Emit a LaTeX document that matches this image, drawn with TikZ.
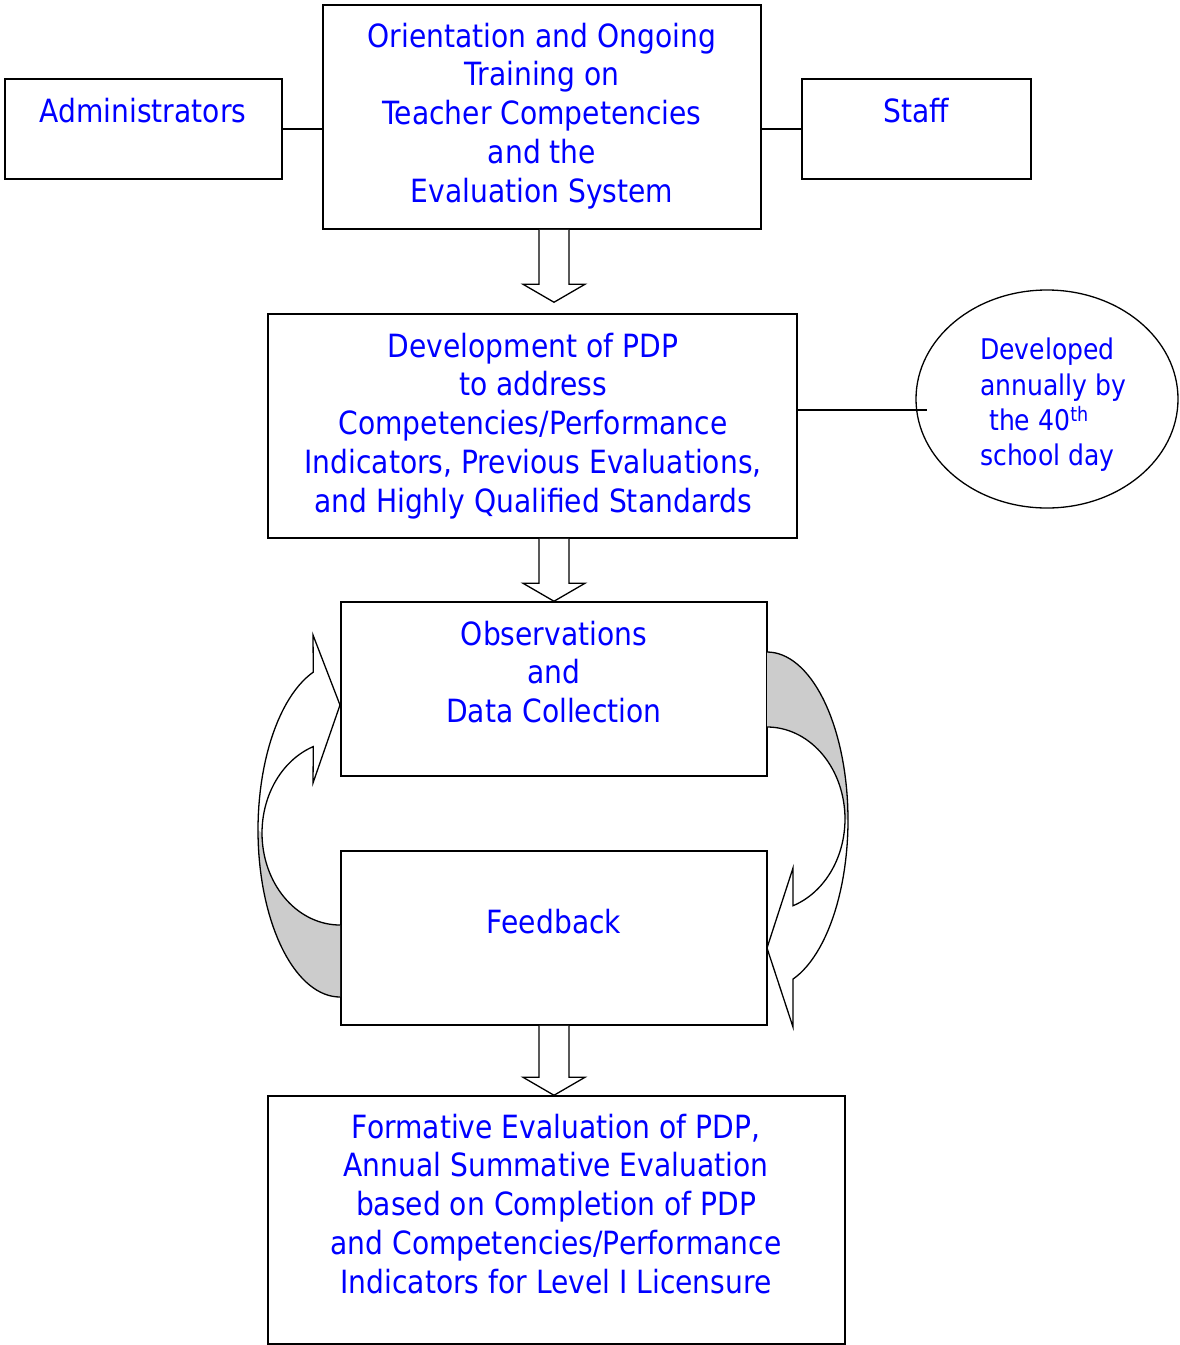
\documentclass[tikz,border=0pt]{standalone}
\usepackage{fontspec}
\setmainfont[FakeStretch=0.88]{DejaVu Sans}
\usetikzlibrary{calc,shapes.geometric}
\newcommand\blkarr[2]{%
  \draw[blk] ($(#1)+(-15,0)$) -- ($(#2)+(-15,-18)$) -- ($(#2)+(-31,-18)$) -- (#2)
    -- ($(#2)+(31,-18)$) -- ($(#2)+(15,-18)$) -- ($(#1)+(15,0)$);}
\begin{document}
\begin{tikzpicture}[x=1pt,y=-1pt,
  box/.style={draw,line width=1.5pt,rectangle,inner sep=0pt},
  txt/.style={text=blue,font=\fontsize{32}{38.75}\selectfont,align=center,inner sep=0pt,anchor=north},
  etxt/.style={text=blue,font=\fontsize{28.5}{35.3}\selectfont,align=left,inner sep=0pt,anchor=north west},
  blk/.style={draw,line width=1.3pt,fill=white,line join=miter},
  curve/.style={draw,line width=1.3pt,line join=miter},
  shade/.style={fill=black!20},
  conn/.style={draw,line width=1.3pt}]
\useasboundingbox (0,0) rectangle (1179,1345);

% boxes
\node[box,minimum width=438pt,minimum height=224pt] (top) at (542,117) {};
\node[box,minimum width=277pt,minimum height=100pt] (admin) at (143.5,129) {};
\node[box,minimum width=229pt,minimum height=100pt] (staff) at (916.5,129) {};
\node[box,minimum width=529pt,minimum height=224pt] (pdp) at (532.5,426) {};
\node[draw,ellipse,line width=1.3pt,minimum width=262pt,minimum height=218pt,inner sep=0pt] (ell) at (1047,399) {};
\node[box,minimum width=426pt,minimum height=174pt] (obs) at (554,689) {};
\node[box,minimum width=426pt,minimum height=174pt] (feed) at (554,938) {};
\node[box,minimum width=577pt,minimum height=248pt] (fin) at (556.5,1220) {};

% texts
\node[txt] (toptxt) at (542,22.7) {Orientation and Ongoing\\Training on\\Teacher Competencies\\and the\\Evaluation System};
\node[txt] (admintxt) at (143,97.7) {Administrators};
\node[txt] (stafftxt) at (916,97.7) {Staff};
\node[txt] (pdptxt) at (533,332.7) {Development of PDP\\to address\\Competencies/Performance\\Indicators, Previous Evaluations,\\and Highly Qualified Standards};
\node[etxt] (elltxt) at (980,338) {Developed\\annually by\\\hspace*{9pt}the 40\textsuperscript{th}\\school day};
\node[txt] (obstxt) at (554,620.7) {Observations\\and\\Data Collection};
\node[txt] (feedtxt) at (554,908.7) {Feedback};
\node[txt] (fintxt) at (556,1113.7) {Formative Evaluation of PDP,\\Annual Summative Evaluation\\based on Completion of PDP\\and Competencies/Performance\\Indicators for Level I Licensure};

% side connectors
\draw[conn] (admin.east) -- (admin.east -| top.west);
\draw[conn] (staff.west) -- (staff.west -| top.east);
\coordinate (e1) at ([yshift=16pt]pdp.east);
\coordinate (e2) at ([xshift=12pt]e1 -| ell.west);
\draw[conn] (e1) -- (e2);

% block arrows
\coordinate (a1s) at ([xshift=12pt]top.south);
\coordinate (a1e) at ($(a1s |- pdp.north)+(0,-11)$);
\blkarr{a1s}{a1e}
\coordinate (a2s) at ([xshift=21.5pt]pdp.south);
\coordinate (a2e) at (a2s |- obs.north);
\blkarr{a2s}{a2e}
\coordinate (a3s) at (feed.south);
\coordinate (a3e) at (a3s |- fin.north);
\blkarr{a3s}{a3e}

% left curved arrow (feedback -> observations)
\fill[shade] plot[domain=90:180,samples=40] ({340+82*cos(\x)},{830+167*sin(\x)})
  -- plot[domain=180:90,samples=40] ({340+78*cos(\x)},{833+92*sin(\x)}) -- cycle;
\draw[curve] plot[domain=90:251,samples=60] ({340+82*cos(\x)},{830+167*sin(\x)})
  -- (313,635) -- (340,705) -- (313,783)
  -- plot[domain=250:90,samples=60] ({340+78*cos(\x)},{833+92*sin(\x)});

% right curved arrow (observations -> feedback)
\fill[shade] plot[domain=-90:0,samples=40] ({767+81*cos(\x)},{820+168*sin(\x)})
  -- plot[domain=0:-90,samples=40] ({767+78*cos(\x)},{819+92*sin(\x)}) -- cycle;
\draw[curve] plot[domain=-90:71.3,samples=60] ({767+81*cos(\x)},{820+168*sin(\x)})
  -- (793,1027) -- (767,948) -- (793,868)
  -- plot[domain=70.5:-90,samples=60] ({767+78*cos(\x)},{819+92*sin(\x)});
\end{tikzpicture}
\end{document}
